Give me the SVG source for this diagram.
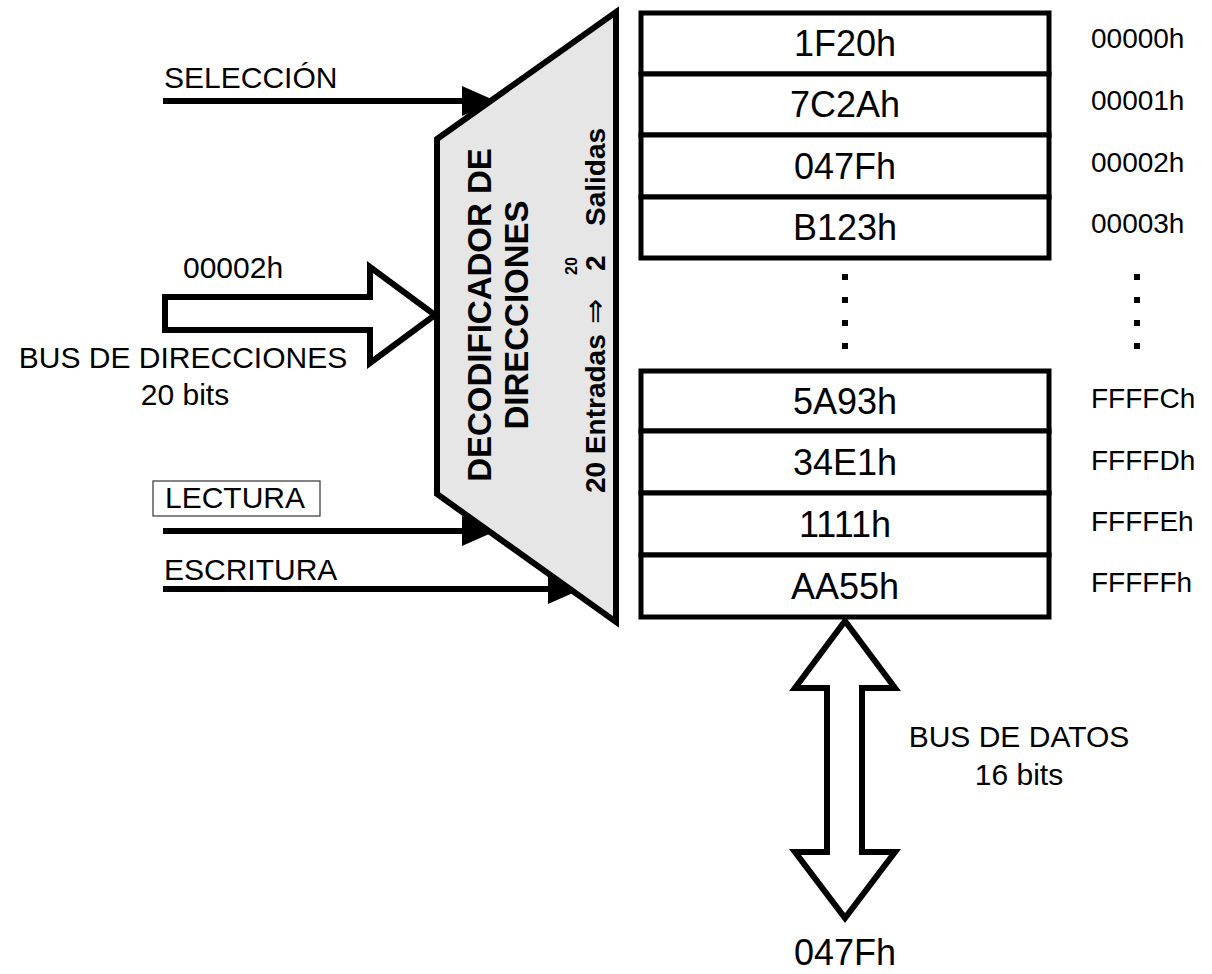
<svg xmlns="http://www.w3.org/2000/svg" width="1212" height="974" viewBox="0 0 1212 974">
<style>
text{font-family:"Liberation Sans",Arial,sans-serif;fill:#000}
.lbl{font-size:30px}
.val{font-size:36px;text-anchor:middle}
.adr{font-size:28px}
.cell{fill:#fff;stroke:#000;stroke-width:5}
.wire{stroke:#000;stroke-width:6;fill:none}
.big{fill:#fff;stroke:#000;stroke-width:6;stroke-linejoin:miter}
.dec{font-weight:bold;font-size:33px;text-anchor:middle}
.dec2{font-weight:bold;font-size:28px}
</style>
<defs>
<marker id="ah" markerWidth="30" markerHeight="30" refX="0" refY="15" orient="auto" markerUnits="userSpaceOnUse">
<path d="M0,0 L34,15 L0,30 Z" fill="#000"/>
</marker>
</defs>
<g id="connectors">
<line class="wire" x1="163" y1="101" x2="462" y2="101" marker-end="url(#ah)"/>
<line class="wire" x1="163" y1="531" x2="462" y2="531" marker-end="url(#ah)"/>
<line class="wire" x1="163" y1="589" x2="548" y2="589" marker-end="url(#ah)"/>
<polygon id="addrbus" class="big" points="165,297 370,297 370,267 435,315 370,363 370,330 165,330"/>
<polygon id="databus" class="big" points="845,621 895,688 862,688 862,852 895,852 845,918 795,852 827,852 827,688 795,688"/>
</g>
<g id="decoder">
<polygon points="437,139 616,12 616,622 437,494" fill="#e6e6e6" stroke="#000" stroke-width="6" stroke-linejoin="miter"/>
<text class="dec" transform="translate(491,315) rotate(-90)">DECODIFICADOR DE</text>
<text class="dec" transform="translate(528,315) rotate(-90)">DIRECCIONES</text>
<text class="dec2" transform="translate(605,493) rotate(-90)">20 Entradas</text>
<text transform="translate(605,324) rotate(-90)" style="font-size:30px">⇒</text>
<text class="dec2" transform="translate(605,271) rotate(-90)">2</text>
<text transform="translate(577,275) rotate(-90)" style="font-size:16px;font-weight:bold">20</text>
<text class="dec2" transform="translate(605,226) rotate(-90)">Salidas</text>
</g>
<g id="labels-left">
<text class="lbl" x="164" y="88">SELECCIÓN</text>
<text class="lbl" x="183" y="278">00002h</text>
<text class="lbl" x="183" y="368" text-anchor="middle">BUS DE DIRECCIONES</text>
<text class="lbl" x="185" y="405" text-anchor="middle">20 bits</text>
<rect x="153" y="481" width="167" height="35" fill="#fff" stroke="#333" stroke-width="1.2"/>
<text class="lbl" x="165" y="508">LECTURA</text>
<text class="lbl" x="164" y="580">ESCRITURA</text>
</g>
<g id="memory-top">
<rect class="cell" x="641" y="13" width="408" height="61"/>
<rect class="cell" x="641" y="74" width="408" height="61"/>
<rect class="cell" x="641" y="135" width="408" height="62"/>
<rect class="cell" x="641" y="197" width="408" height="61"/>
<text class="val" x="845" y="56">1F20h</text>
<text class="val" x="845" y="117">7C2Ah</text>
<text class="val" x="845" y="179">047Fh</text>
<text class="val" x="845" y="240">B123h</text>
</g>
<g id="memory-bottom">
<rect class="cell" x="641" y="371" width="408" height="60"/>
<rect class="cell" x="641" y="431" width="408" height="62"/>
<rect class="cell" x="641" y="493" width="408" height="62"/>
<rect class="cell" x="641" y="555" width="408" height="62"/>
<text class="val" x="845" y="414">5A93h</text>
<text class="val" x="845" y="475">34E1h</text>
<text class="val" x="845" y="537">1111h</text>
<text class="val" x="845" y="599">AA55h</text>
</g>
<g id="addresses">
<text class="adr" x="1091" y="48">00000h</text>
<text class="adr" x="1091" y="110">00001h</text>
<text class="adr" x="1091" y="172">00002h</text>
<text class="adr" x="1091" y="233">00003h</text>
<text class="adr" x="1091" y="408">FFFFCh</text>
<text class="adr" x="1091" y="470">FFFFDh</text>
<text class="adr" x="1091" y="531">FFFFEh</text>
<text class="adr" x="1091" y="592">FFFFFh</text>
</g>
<g id="dots" fill="#000">
<rect x="842" y="274" width="6" height="6"/>
<rect x="842" y="297" width="6" height="6"/>
<rect x="842" y="320" width="6" height="6"/>
<rect x="842" y="343" width="6" height="6"/>
<rect x="1134" y="274" width="6" height="6"/>
<rect x="1134" y="297" width="6" height="6"/>
<rect x="1134" y="320" width="6" height="6"/>
<rect x="1134" y="343" width="6" height="6"/>
</g>
<g id="data-labels">
<text class="lbl" x="1019" y="747" text-anchor="middle">BUS DE DATOS</text>
<text class="lbl" x="1019" y="785" text-anchor="middle">16 bits</text>
<text class="val" x="845" y="965">047Fh</text>
</g>
</svg>
